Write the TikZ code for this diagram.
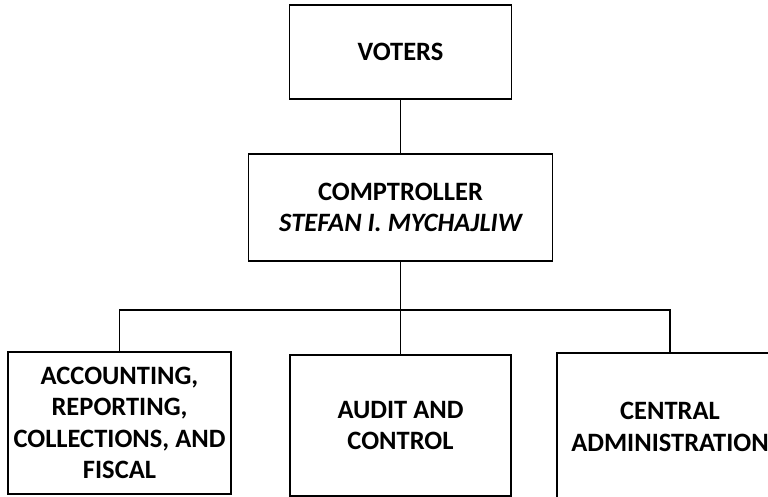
\documentclass[tikz,border=0pt]{standalone}
\usepackage{fontspec}
\setmainfont{Carlito}
\begin{document}
\begin{tikzpicture}[x=1pt,y=-1pt,
  orgbox/.style={draw, line width=1.6pt, align=center, inner sep=0pt,
    font=\fontsize{26.5}{31.5}\selectfont\bfseries},
  link/.style={line width=1.6pt}]
\useasboundingbox (0,0) rectangle (768,497);
% boxes of the chart
\node[orgbox, minimum width=222pt, minimum height=94pt] (voters) at (400.5,52) {VOTERS};
\node[orgbox, minimum width=304pt, minimum height=107pt] (comp) at (400.5,207.5)
  {COMPTROLLER\\\itshape STEFAN I. MYCHAJLIW};
\node[orgbox, minimum width=223pt, minimum height=142pt] (acct) at (119.5,423)
  {ACCOUNTING,\\REPORTING,\\COLLECTIONS, AND\\FISCAL};
\node[orgbox, minimum width=221pt, minimum height=141pt] (audit) at (400.5,425.5)
  {AUDIT AND\\CONTROL};
\node[orgbox, minimum width=226pt, minimum height=148pt] (admin) at (670,427)
  {CENTRAL\\ADMINISTRATION};
% connectors
\coordinate (bus) at (400.5,310);
\draw[link] (voters.south) -- (comp.north);
\draw[link] (comp.south) -- (bus);
\draw[link] (bus) -| (acct.north);
\draw[link] (bus) -- (audit.north);
\draw[link] (bus) -| (admin.north);
\end{tikzpicture}
\end{document}
